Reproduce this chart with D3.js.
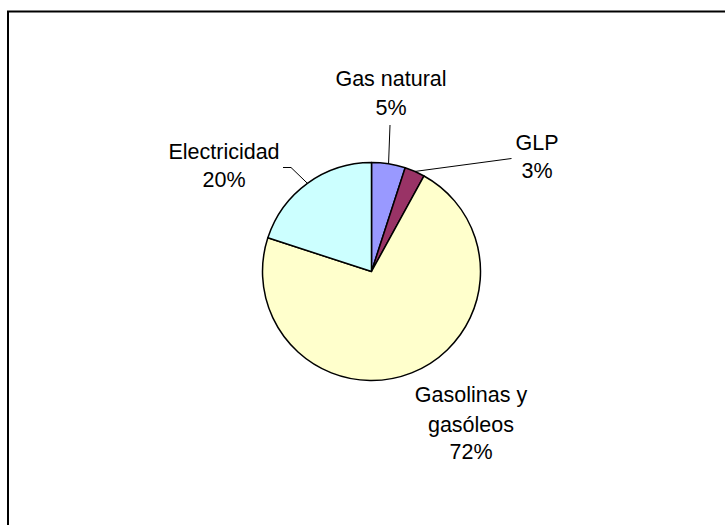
<!DOCTYPE html>
<html>
<head>
<meta charset="utf-8">
<script src="https://cdn.jsdelivr.net/npm/d3@7"></script>
<style>
  html, body { margin: 0; padding: 0; background: #fff; }
  svg { display: block; }
  text { font-family: "Liberation Sans", Arial, sans-serif; font-size: 21.5px; fill: #000; }
</style>
</head>
<body>
<svg id="chart" width="725" height="525"></svg>
<script>
// Data
const categories = ["Gas natural", "GLP", "Gasolinas y gasóleos", "Electricidad"];
const values = [5, 3, 72, 20];
const labelLines = [["Gas natural", "5%"], ["GLP", "3%"], ["Gasolinas y", "gasóleos", "72%"], ["Electricidad", "20%"]];
const colors = ["#9999FF", "#993366", "#FFFFCC", "#CCFFFF"];

const svg = d3.select("#chart");

// Chart border (extends past the right / bottom edges as in the reference)
svg.append("rect")
  .attr("x", 8).attr("y", 11.5)
  .attr("width", 800).attr("height", 600)
  .attr("fill", "#fff").attr("stroke", "#000").attr("stroke-width", 2);

const cx = 371.5, cy = 271.5, r = 109;
const data = categories.map((c, i) => ({ name: c, value: values[i], lines: labelLines[i], color: colors[i] }));

const pie = d3.pie().value(d => d.value).sort(null);
const arcs = pie(data);
const arc = d3.arc().innerRadius(0).outerRadius(r);

const g = svg.append("g").attr("transform", `translate(${cx},${cy})`);
g.selectAll("path").data(arcs).enter().append("path")
  .attr("d", arc)
  .attr("fill", d => d.data.color)
  .attr("stroke", "#000")
  .attr("stroke-width", 1.5)
  .attr("stroke-linejoin", "round");

// Label positions (layout)
const labelPos = {
  "Gas natural": { x: 391, y: 86, dy: [0, 29] },
  "GLP": { x: 537, y: 150, dy: [0, 28] },
  "Gasolinas y gasóleos": { x: 471, y: 401.5, dy: [0, 30, 57.5] },
  "Electricidad": { x: 224, y: 159, dy: [0, 28] }
};

// Leader lines: from arc edge to label
const leaderEnds = {
  "Gas natural": [[390, 125]],
  "GLP": [[511.5, 158.5]],
  "Electricidad": [[291, 167.5], [283, 167.5]]
};

arcs.forEach(a => {
  const ends = leaderEnds[a.data.name];
  if (!ends) return;
  const mid = (a.startAngle + a.endAngle) / 2;
  const start = [cx + r * Math.sin(mid), cy - r * Math.cos(mid)];
  const pts = [start].concat(ends);
  svg.append("path")
    .attr("d", d3.line()(pts))
    .attr("fill", "none")
    .attr("stroke", "#000")
    .attr("stroke-width", 1);
});

data.forEach(d => {
  const p = labelPos[d.name];
  const t = svg.append("text").attr("text-anchor", "middle");
  d.lines.forEach((ln, i) => {
    t.append("tspan").attr("x", p.x).attr("y", p.y + p.dy[i]).text(ln);
  });
});
</script>
</body>
</html>
